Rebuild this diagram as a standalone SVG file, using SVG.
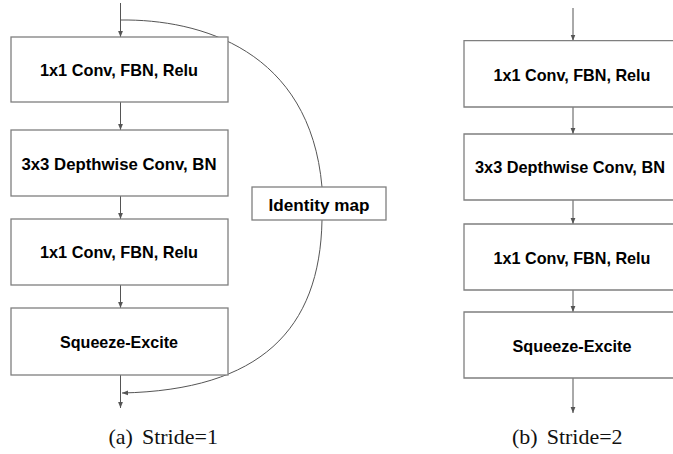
<svg xmlns="http://www.w3.org/2000/svg" width="673" height="454" viewBox="0 0 673 454">
<style>
.box{fill:#ffffff;stroke:#7f7f7f;stroke-width:1.3}
.lbl{font-family:"Liberation Sans",Arial,sans-serif;font-weight:bold;font-size:16.3px;fill:#000000;text-anchor:middle}
.cap{font-family:"Liberation Serif","Times New Roman",serif;font-size:22px;fill:#111111}
.con{fill:none;stroke:#555555;stroke-width:1}
</style>
<defs>
<marker id="ah" viewBox="0 0 10 10" refX="10" refY="5" markerWidth="6" markerHeight="6" markerUnits="userSpaceOnUse" orient="auto">
<path d="M0,1 L10,5 L0,9 z" fill="#555555"/>
</marker>
</defs>
<rect width="673" height="454" fill="#ffffff"/>
<g id="connectors">
<path class="con" d="M120.5,3 V37" marker-end="url(#ah)"/>
<path class="con" d="M120.5,102 V130" marker-end="url(#ah)"/>
<path class="con" d="M120.5,196 V219" marker-end="url(#ah)"/>
<path class="con" d="M120.5,285 V308" marker-end="url(#ah)"/>
<path class="con" d="M120.5,375 V408" marker-end="url(#ah)"/>
<path class="con" d="M120.5,20 C200,19 310,50 322,187"/>
<path class="con" d="M322,220 C320,330 260,390 122,393" marker-end="url(#ah)"/>
<path class="con" d="M573,8 V40.7" marker-end="url(#ah)"/>
<path class="con" d="M573,107 V134" marker-end="url(#ah)"/>
<path class="con" d="M573,200 V224" marker-end="url(#ah)"/>
<path class="con" d="M573,290 V312" marker-end="url(#ah)"/>
<path class="con" d="M573,378 V413" marker-end="url(#ah)"/>
</g>
<g id="a-conv1">
<rect class="box" x="11" y="37" width="217" height="65"/>
<text class="lbl" x="119" y="76" textLength="158" lengthAdjust="spacingAndGlyphs">1x1 Conv, FBN, Relu</text>
</g>
<g id="a-dw">
<rect class="box" x="11" y="130" width="217" height="66"/>
<text class="lbl" x="119" y="170" textLength="195" lengthAdjust="spacingAndGlyphs">3x3 Depthwise Conv, BN</text>
</g>
<g id="a-conv2">
<rect class="box" x="11" y="219" width="217" height="66"/>
<text class="lbl" x="119" y="257.5" textLength="158" lengthAdjust="spacingAndGlyphs">1x1 Conv, FBN, Relu</text>
</g>
<g id="a-se">
<rect class="box" x="11" y="308" width="217" height="67"/>
<text class="lbl" x="119" y="347.5" textLength="118" lengthAdjust="spacingAndGlyphs">Squeeze-Excite</text>
</g>
<g id="a-identity">
<rect class="box" x="252" y="187" width="134" height="33"/>
<text class="lbl" x="319" y="211" textLength="101" lengthAdjust="spacingAndGlyphs">Identity map</text>
</g>
<g id="b-conv1">
<path class="box" d="M673,40.7 H464 V107 H673"/>
<text class="lbl" x="572" y="80.5" textLength="157" lengthAdjust="spacingAndGlyphs">1x1 Conv, FBN, Relu</text>
</g>
<g id="b-dw">
<path class="box" d="M673,134 H464 V200 H673"/>
<text class="lbl" x="570" y="172.7" textLength="190" lengthAdjust="spacingAndGlyphs">3x3 Depthwise Conv, BN</text>
</g>
<g id="b-conv2">
<path class="box" d="M673,224 H464 V290 H673"/>
<text class="lbl" x="572" y="263.5" textLength="157" lengthAdjust="spacingAndGlyphs">1x1 Conv, FBN, Relu</text>
</g>
<g id="b-se">
<path class="box" d="M673,312 H464 V378 H673"/>
<text class="lbl" x="572" y="351.5" textLength="119" lengthAdjust="spacingAndGlyphs">Squeeze-Excite</text>
</g>
<g id="captions">
<text class="cap" x="108.5" y="444">(a)<tspan dx="9">Stride=1</tspan></text>
<text class="cap" x="512" y="444">(b)<tspan dx="9">Stride=2</tspan></text>
</g>
</svg>
